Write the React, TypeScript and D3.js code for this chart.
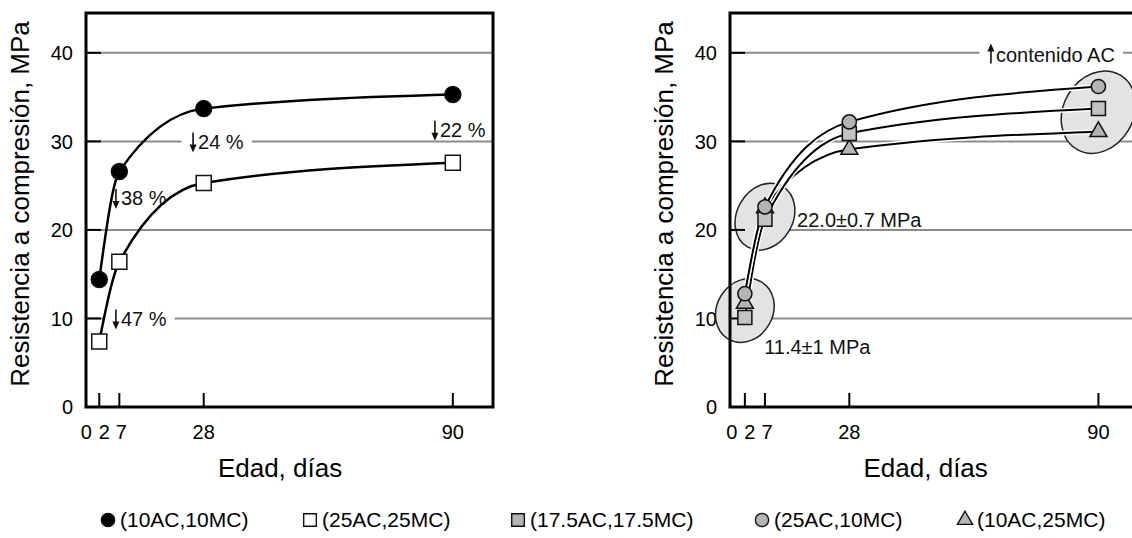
import { useEffect, useRef } from "react";
import * as d3 from "d3";

// ages (days) and axis ticks
const days = [2, 7, 28, 90];
const xTickValues = [0, 2, 7, 28, 90];
const yTickValues = [0, 10, 20, 30, 40];

// compressive strength, MPa
const mix10AC10MC = [14.4, 26.6, 33.7, 35.3];
const mix25AC25MC = [7.4, 16.4, 25.3, 27.6];
const mix175AC175MC = [10.1, 21.2, 30.9, 33.7];
const mix25AC10MC = [12.8, 22.6, 32.2, 36.2];
const mix10AC25MC = [11.7, 22.5, 29.1, 31.1];

const legendLabels = ["(10AC,10MC)", "(25AC,25MC)", "(17.5AC,17.5MC)", "(25AC,10MC)", "(10AC,25MC)"];

// annotations, anchored in data units (day, MPa)
const leftNotes = [
  { text: "24 %", arrow: "down", day: 24.6, mpa: 30, mask: true },
  { text: "47 %", arrow: "down", day: 5.4, mpa: 10, mask: true },
  { text: "38 %", arrow: "down", day: 5.4, mpa: 23.6, mask: false },
  { text: "22 %", arrow: "down", day: 84.8, mpa: 31.3, mask: false },
];
const rightNotes = [
  { text: "contenido AC", arrow: "up", day: 62.5, mpa: 39.8, mask: true },
  { text: "22.0±0.7 MPa", arrow: "", day: 15, mpa: 21.1, mask: false },
  { text: "11.4±1 MPa", arrow: "", day: 6.8, mpa: 6.8, mask: false },
];
// centres of the shaded groups in the right panel
const clusterDays = [2, 7, 90];
const clusterMpa = [10.9, 21.5, 33.3];

const W = 1132;
const H = 538;
const FONT = "'Liberation Sans', Arial, Helvetica, sans-serif";
const clusterSize = [
  { rx: 33, ry: 28 },
  { rx: 35, ry: 28 },
  { rx: 43, ry: 35 },
];
const tickShift: Record<number, number> = { 0: -5, 2: 5, 7: 2 };
const legendX = [108, 310, 518, 762, 965];

type Shape = "circle" | "square" | "triangle";
const symbolFor = (shape: Shape) =>
  shape === "circle" ? d3.symbolCircle : shape === "square" ? d3.symbolSquare : d3.symbolTriangle;

const leftSeries = [
  { values: mix10AC10MC, shape: "circle" as Shape, fill: "#000", size: Math.PI * 64 },
  { values: mix25AC25MC, shape: "square" as Shape, fill: "#fff", size: 225 },
];
const rightSeries = [
  { values: mix10AC25MC, shape: "triangle" as Shape, fill: "#b4b4b4", size: 125 },
  { values: mix175AC175MC, shape: "square" as Shape, fill: "#c2c2c2", size: 196 },
  { values: mix25AC10MC, shape: "circle" as Shape, fill: "#b4b4b4", size: Math.PI * 50 },
];
const legendStyle = [
  { shape: "circle" as Shape, fill: "#000", size: Math.PI * 44 },
  { shape: "square" as Shape, fill: "#fff", size: 160 },
  { shape: "square" as Shape, fill: "#b4b4b4", size: 160 },
  { shape: "circle" as Shape, fill: "#b4b4b4", size: Math.PI * 44 },
  { shape: "triangle" as Shape, fill: "#b4b4b4", size: 100 },
];

function drawPanel(svg: any, x: any, y: any, series: any[], notes: any[], casing: boolean, withClusters: boolean) {
  const g = svg.append("g");
  const [xl, xr] = x.range();
  const [yb, yt] = y.range();

  // grid lines
  g.selectAll(".grid")
    .data(yTickValues.filter((v) => v > 0))
    .join("line")
    .attr("x1", xl)
    .attr("x2", xr)
    .attr("y1", (d: number) => y(d))
    .attr("y2", (d: number) => y(d))
    .attr("stroke", "#8c8c8c")
    .attr("stroke-width", 2);

  // notes: thin arrow + text, with a white box breaking the grid line where needed
  const notesG = g.append("g");
  notes.forEach((n) => {
    const ng = notesG.append("g");
    const nx = x(n.day);
    const cy = y(n.mpa);
    let tx = nx;
    if (n.arrow) {
      const ax = nx + 3;
      const dir = n.arrow === "down" ? 1 : -1;
      ng.append("line")
        .attr("x1", ax)
        .attr("x2", ax)
        .attr("y1", cy - 9 * dir)
        .attr("y2", cy + 4 * dir)
        .attr("stroke", "#111")
        .attr("stroke-width", 1.6);
      ng.append("path")
        .attr("d", `M${ax - 3.5},${cy + 3 * dir}L${ax + 3.5},${cy + 3 * dir}L${ax},${cy + 11 * dir}Z`)
        .attr("fill", "#111");
      tx = nx + 8;
    }
    ng.append("text")
      .attr("x", tx)
      .attr("y", cy)
      .attr("dy", "0.36em")
      .attr("font-size", 20)
      .attr("fill", "#111")
      .text(n.text);
    if (n.mask) {
      const b = (ng.node() as SVGGElement).getBBox();
      ng.insert("rect", ":first-child")
        .attr("x", b.x - 8)
        .attr("y", cy - 4)
        .attr("width", b.width + 16)
        .attr("height", 8)
        .attr("fill", "#fff");
    }
  });

  // y tick labels
  g.selectAll(".ylab")
    .data(yTickValues)
    .join("text")
    .attr("x", xl - 13)
    .attr("y", (d: number) => y(d))
    .attr("dy", "0.36em")
    .attr("text-anchor", "end")
    .attr("font-size", 20)
    .text((d: number) => d);

  // shaded groups
  if (withClusters) {
    clusterDays.forEach((d, i) => {
      g.append("ellipse")
        .attr("cx", 0)
        .attr("cy", 0)
        .attr("rx", clusterSize[i].rx)
        .attr("ry", clusterSize[i].ry)
        .attr("transform", `translate(${x(d)},${y(clusterMpa[i])}) rotate(-60)`)
        .attr("fill", "#e3e3e3")
        .attr("stroke", "#222")
        .attr("stroke-width", 1.5);
    });
  }

  // black y ticks
  g.selectAll(".ytick")
    .data(yTickValues.filter((v) => v > 0))
    .join("line")
    .attr("x1", xl)
    .attr("x2", xl + 15)
    .attr("y1", (d: number) => y(d))
    .attr("y2", (d: number) => y(d))
    .attr("stroke", "#000")
    .attr("stroke-width", 2);

  // x ticks
  g.selectAll(".xtick")
    .data(days)
    .join("line")
    .attr("x1", (d: number) => x(d))
    .attr("x2", (d: number) => x(d))
    .attr("y1", yb)
    .attr("y2", yb - 14)
    .attr("stroke", "#000")
    .attr("stroke-width", 2);

  g.selectAll(".xlab")
    .data(xTickValues)
    .join("text")
    .attr("x", (d: number) => x(d) + (tickShift[d] || 0))
    .attr("y", 439)
    .attr("text-anchor", "middle")
    .attr("font-size", 20)
    .text((d: number) => d);

  // frame
  g.append("rect")
    .attr("x", xl)
    .attr("y", yt)
    .attr("width", xr - xl)
    .attr("height", yb - yt)
    .attr("fill", "none")
    .attr("stroke", "#000")
    .attr("stroke-width", 3);

  // titles
  g.append("text")
    .attr("transform", `translate(${xl - 57},204) rotate(-90)`)
    .attr("text-anchor", "middle")
    .attr("font-size", 26)
    .text("Resistencia a compresión, MPa");
  g.append("text")
    .attr("x", x(47))
    .attr("y", 477)
    .attr("text-anchor", "middle")
    .attr("font-size", 26)
    .text("Edad, días");

  // curves
  const line = d3
    .line<number>()
    .x((_, i) => x(days[i]))
    .y((d) => y(d))
    .curve(d3.curveMonotoneX);
  series.forEach((s) => {
    if (casing) {
      g.append("path").attr("d", line(s.values)).attr("fill", "none").attr("stroke", "#fff").attr("stroke-width", 5);
    }
    g.append("path")
      .attr("d", line(s.values))
      .attr("fill", "none")
      .attr("stroke", "#000")
      .attr("stroke-width", casing ? 2 : 2.5);
  });

  // markers
  series.forEach((s) => {
    g.selectAll(null)
      .data(s.values)
      .join("path")
      .attr("transform", (d: number, i: number) => `translate(${x(days[i])},${y(d)})`)
      .attr("d", d3.symbol().type(symbolFor(s.shape)).size(s.size)())
      .attr("fill", s.fill)
      .attr("stroke", "#111")
      .attr("stroke-width", 1.5);
  });
}

export default function App() {
  const ref = useRef<SVGSVGElement>(null);

  useEffect(() => {
    const svg = d3.select(ref.current);
    svg.selectAll("*").remove();
    svg.append("rect").attr("width", W).attr("height", H).attr("fill", "#fff");

    const y = d3.scaleLinear().domain([0, 44.5]).range([407, 13]);
    const xLeft = d3.scaleLinear().domain([-1.3, 100]).range([86, 493]);
    const xRight = d3.scaleLinear().domain([-1.7, 100]).range([730, 1138.6]);

    drawPanel(svg, xLeft, y, leftSeries, leftNotes, false, false);
    drawPanel(svg, xRight, y, rightSeries, rightNotes, true, true);

    // legend
    const lg = svg.append("g");
    legendLabels.forEach((label, i) => {
      const st = legendStyle[i];
      lg.append("path")
        .attr("transform", `translate(${legendX[i]},520)`)
        .attr("d", d3.symbol().type(symbolFor(st.shape)).size(st.size)())
        .attr("fill", st.fill)
        .attr("stroke", "#111")
        .attr("stroke-width", 1.4);
      lg.append("text")
        .attr("x", legendX[i] + 12)
        .attr("y", 527)
        .attr("font-size", 21)
        .text(label);
    });
  }, []);

  return (
    <svg
      ref={ref}
      width={W}
      height={H}
      fontFamily={FONT}
      style={{ position: "absolute", left: 0, top: 0, display: "block" }}
    />
  );
}
